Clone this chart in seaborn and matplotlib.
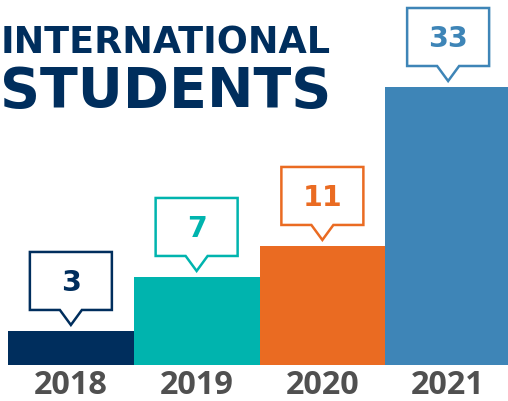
import matplotlib
matplotlib.use("Agg")
import matplotlib.pyplot as plt
from matplotlib.patches import Polygon
from matplotlib.transforms import Affine2D
import seaborn as sns
import pandas as pd

# ---- data ----
years = ["2018", "2019", "2020", "2021"]
students = [3, 7, 11, 33]                 # numbers shown in callouts
bar_heights = [4.04, 10.45, 14.13, 33.0]  # drawn bar heights (infographic, not proportional)
colors = ["#002E5D", "#00B4AE", "#EA6B22", "#3E85B7"]
title_lines = ["INTERNATIONAL", "STUDENTS"]

W, H = 508, 401
sns.set_theme(style="white")
plt.rcParams["font.family"] = ["DejaVu Sans"]

fig = plt.figure(figsize=(W / 100, H / 100), dpi=100)
fig.patch.set_facecolor("white")

bar_px = 125.75
ax = fig.add_axes([8 / W, 36 / H, 500 / W, 365 / H])
df = pd.DataFrame({"year": years, "height": bar_heights})
sns.barplot(data=df, x="year", y="height", hue="year", palette=colors,
            width=1.0, saturation=1, legend=False, ax=ax, linewidth=0)
ax.set_xlim(-0.5, -0.5 + 500 / bar_px)
px_per_unit = 278 / 33
ax.set_ylim(0, 365 / px_per_unit)
ax.set_axis_off()
ax.patch.set_alpha(0)

# year labels under the bars
for i, yr in enumerate(years):
    ax.annotate(yr, xy=(i, 0), xycoords="data", xytext=(0, -29),
                textcoords="offset pixels", ha="center", va="baseline",
                fontsize=23.3, fontweight="bold", color="#505050",
                family=["Open Sans", "DejaVu Sans"], annotation_clip=False)

# callouts
fig.canvas.draw()
box_w, box_h, ptr_h, ptr_w, gap = 82, 58, 15, 11, 6
for i, (v, h, c) in enumerate(zip(students, bar_heights, colors)):
    tx, ty = ax.transData.transform((i, h))
    ty += gap
    verts = [(0, 0), (-ptr_w, ptr_h), (-box_w / 2, ptr_h), (-box_w / 2, ptr_h + box_h),
             (box_w / 2, ptr_h + box_h), (box_w / 2, ptr_h), (ptr_w, ptr_h)]
    poly = Polygon(verts, closed=True, facecolor="white", edgecolor=c,
                   linewidth=1.8, joinstyle="miter",
                   transform=Affine2D().translate(tx, ty), zorder=5)
    poly.set_clip_on(False)
    ax.add_artist(poly)
    ax.annotate(str(v), xy=(i, h), xycoords="data",
                xytext=(0, gap + ptr_h + box_h / 2 - 10), textcoords="offset pixels",
                ha="center", va="baseline", fontsize=20.5, fontweight="bold",
                color=c, zorder=6, annotation_clip=False)

# title
fig.text(0.5 / W, 1 - 53 / H, title_lines[0], fontsize=26.3, fontweight="bold",
         color="#002E5D", ha="left", va="baseline")
fig.text(0.5 / W, 1 - 107 / H, title_lines[1], fontsize=40.0, fontweight="bold",
         color="#002E5D", ha="left", va="baseline")

fig.savefig("out.png", dpi=100)
